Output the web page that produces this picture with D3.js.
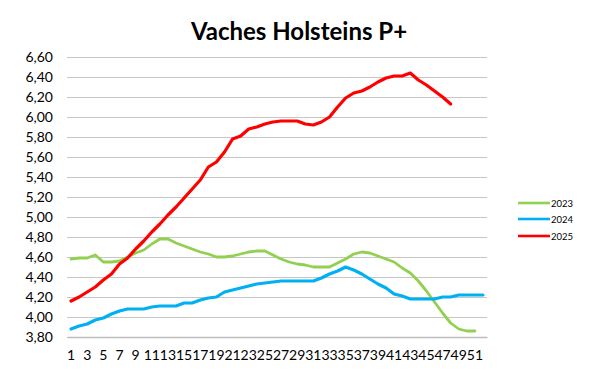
<!DOCTYPE html>
<html>
<head>
<meta charset="utf-8">
<script src="https://cdn.jsdelivr.net/npm/d3@7"></script>
<style>
  html, body { margin: 0; padding: 0; background: #fff; }
  svg { display: block; }
  text { font-family: Lato, "Open Sans", "Liberation Sans", sans-serif; }
</style>
</head>
<body>
<svg id="chart" width="600" height="378"></svg>
<script>
const title = "Vaches Holsteins P+";
const weeks = d3.range(1, 53);
const xTickLabels = [1,3,5,7,9,11,13,15,17,19,21,23,25,27,29,31,33,35,37,39,41,43,45,47,49,51];
const yTicks = [3.8,4.0,4.2,4.4,4.6,4.8,5.0,5.2,5.4,5.6,5.8,6.0,6.2,6.4,6.6];
const seriesNames = ["2023", "2024", "2025"];

const values2023 = [4.58,4.59,4.59,4.62,4.55,4.55,4.56,4.60,4.64,4.67,4.73,4.78,4.78,4.74,4.71,4.68,4.65,4.63,4.60,4.60,
  4.61,4.63,4.65,4.66,4.66,4.62,4.58,4.55,4.53,4.52,4.50,4.50,4.50,4.54,4.58,4.63,4.65,4.64,4.61,4.58,
  4.55,4.49,4.44,4.36,4.26,4.15,4.04,3.94,3.88,3.86,3.86];
const values2024 = [3.88,3.91,3.93,3.97,3.99,4.03,4.06,4.08,4.08,4.08,4.10,4.11,4.11,4.11,4.14,4.14,4.17,4.19,4.20,4.25,
  4.27,4.29,4.31,4.33,4.34,4.35,4.36,4.36,4.36,4.36,4.36,4.39,4.43,4.46,4.50,4.47,4.43,4.38,4.33,4.29,
  4.23,4.21,4.18,4.18,4.18,4.18,4.20,4.20,4.22,4.22,4.22,4.22];
const values2025 = [4.16,4.20,4.25,4.30,4.37,4.43,4.53,4.59,4.68,4.76,4.85,4.93,5.02,5.10,5.19,5.28,5.37,5.50,5.55,5.65,
  5.78,5.81,5.88,5.90,5.93,5.95,5.96,5.96,5.96,5.93,5.92,5.95,6.00,6.10,6.19,6.24,6.26,6.30,6.35,6.39,
  6.41,6.41,6.44,6.37,6.32,6.26,6.20,6.13];

const colors = ["#92D050", "#00B0F0", "#FF0000"];
const widths = [2.8, 3.2, 3.2];
const seriesValues = [values2023, values2024, values2025];

const svg = d3.select("#chart");
const plotLeft = 67, plotRight = 487, plotTop = 57, plotBottom = 337;

const x = d3.scaleBand().domain(weeks).range([plotLeft, plotRight]).paddingInner(0).paddingOuter(0);
const y = d3.scaleLinear().domain([3.8, 6.6]).range([plotBottom, plotTop]);
const loc = d3.formatLocale({decimal: ",", thousands: " ", grouping: [3], currency: ["", "€"]});
const fmt = loc.format(".2f");

// title
svg.append("text").attr("x", 299).attr("y", 40).attr("text-anchor", "middle")
  .attr("font-size", 24).attr("font-weight", "bold").attr("fill", "#000").text(title);

// gridlines + y labels
const yAxis = svg.append("g").attr("transform", `translate(${plotLeft},0)`)
  .call(d3.axisLeft(y).tickValues(yTicks).tickSize(-(plotRight - plotLeft)).tickFormat(fmt).tickPadding(14));
yAxis.select(".domain").remove();
yAxis.selectAll(".tick line").attr("stroke", "#c6c6c6").attr("stroke-width", 1);
yAxis.selectAll(".tick text").attr("font-size", 14).attr("fill", "#000")
  .attr("font-family", "Lato, 'Open Sans', sans-serif");

// x axis
const xAxis = svg.append("g").attr("transform", `translate(0,${plotBottom})`)
  .call(d3.axisBottom(x).tickValues(xTickLabels).tickSize(0).tickPadding(13));
xAxis.select(".domain").attr("stroke", "#bdbdbd").attr("stroke-width", 1.3);
xAxis.selectAll(".tick text").attr("font-size", 14).attr("fill", "#000")
  .attr("font-family", "Lato, 'Open Sans', sans-serif");

// lines
const line = d3.line()
  .x((d, i) => x(weeks[i]) + x.bandwidth() / 2)
  .y(d => y(d));

seriesValues.forEach((vals, k) => {
  svg.append("path").datum(vals)
    .attr("fill", "none")
    .attr("stroke", colors[k])
    .attr("stroke-width", widths[k])
    .attr("stroke-linejoin", "round")
    .attr("stroke-linecap", "round")
    .attr("d", line);
});

// legend
const legendY = [203, 219, 236];
seriesNames.forEach((name, k) => {
  svg.append("line").attr("x1", 518).attr("x2", 550).attr("y1", legendY[k]).attr("y2", legendY[k])
    .attr("stroke", colors[k]).attr("stroke-width", 2.6);
  svg.append("text").attr("x", 551).attr("y", legendY[k] + 3.5).attr("font-size", 9.5)
    .attr("fill", "#000").text(name);
});
</script>
</body>
</html>
